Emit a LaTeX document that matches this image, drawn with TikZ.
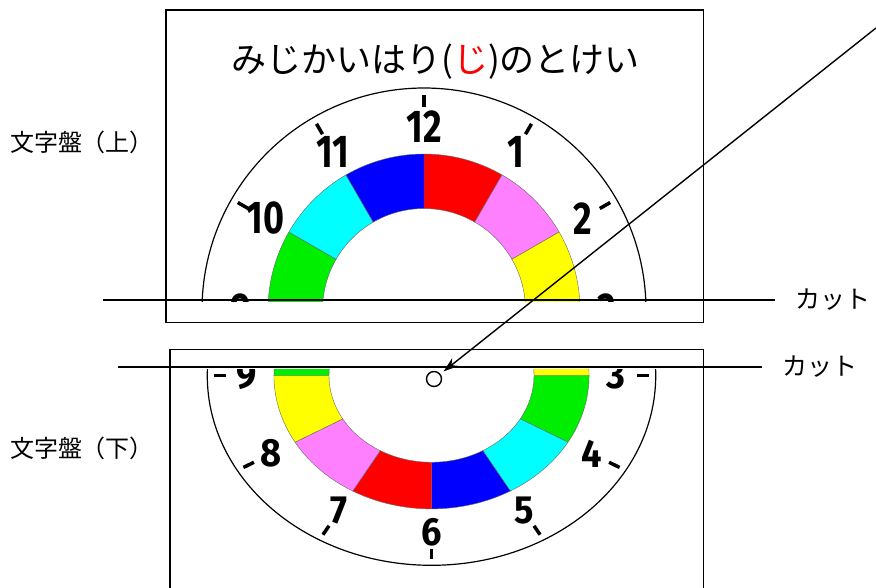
\documentclass[tikz,border=0pt]{standalone}
\usepackage{fontspec}
\usepackage{xcolor}
\usepackage{tikz}
\usetikzlibrary{arrows,arrows.meta,positioning}
\newfontfamily\jpfont{Noto Sans CJK JP}
\newfontfamily\digitfont[Numbers=Proportional]{Fira Sans}
\definecolor{segRed}{HTML}{FF0000}
\definecolor{segPink}{HTML}{FF80FF}
\definecolor{segYellow}{HTML}{FFFF00}
\definecolor{segGreen}{HTML}{00EE00}
\definecolor{segCyan}{HTML}{00FFFF}
\definecolor{segBlue}{HTML}{0000FF}
\tikzset{
  digit/.style={font=\digitfont\bfseries\fontsize{46}{46}\selectfont,xscale=0.78},
  hourtick/.style={line width=3.5pt},
  ringseg/.style={draw=black!60,line width=0.4pt},
}
% one dial: colour ring, rim, ticks and hour digits
\newcommand{\dialface}[1]{%
  \foreach \h/\c in {0/segRed,1/segPink,2/segYellow,3/segGreen,4/segCyan,5/segBlue,
                     6/segRed,7/segPink,8/segYellow,9/segGreen,10/segCyan,11/segBlue}{
    \fill[\c,ringseg] ({30*\h-90}:101.5) arc[start angle={30*\h-90},end angle={30*\h-60},radius=101.5]
      -- ({30*\h-60}:156) arc[start angle={30*\h-60},end angle={30*\h-90},radius=156] -- cycle;
  }
  \draw[line width=1.2pt] (0,0) circle[radius=222];
  \foreach \h in {1,...,12}{
    \draw[hourtick] ({30*\h-90}:203) -- ({30*\h-90}:215);
    \node[digit] (#1\h) at ({30*\h-90}:183) {\h};
  }
}

\begin{document}
\begin{tikzpicture}[x=1pt,y=-1pt,>=stealth',thick,node distance=19pt]
    \tikzstyle{every node}=[inner sep=1pt]
    \tikzstyle{sidelabel}=[font=\jpfont\fontsize{24}{24}\selectfont]
    \tikzstyle{cutlabel}=[font=\jpfont\fontsize{25}{25}\selectfont]
    \tikzstyle{titletext}=[font=\jpfont\fontsize{35}{35}\selectfont]
    \tikzstyle{hole}=[circle,draw,fill=white,line width=1.4pt,minimum size=15pt,inner sep=0pt]
    \useasboundingbox (0,0) rectangle (876,587);

      % sheets
      \draw[line width=1.6pt] (166,10) rectangle (703.5,322.3);
      \draw[line width=1.6pt] (170,600) |- (703.5,349.3) -- (703.5,600);

      \node[titletext] (title) at (435.5,61.5) {みじかいはり(\textcolor{red}{じ})のとけい};

      % upper half of the dial
      \begin{scope}
        \clip (166,10) rectangle (703.5,301);
        \begin{scope}[shift={(424,310)}]
          \dialface{up}
        \end{scope}
      \end{scope}

      % lower half of the dial
      \begin{scope}
        \clip (170,369) rectangle (703.5,600);
        \begin{scope}[shift={(431.5,375.5)},xscale=1.01,yscale=0.855,transform shape]
          \dialface{lo}
        \end{scope}
      \end{scope}

      \node[sidelabel] (dialUp) at (82,142) {文字盤（上）};
      \node[sidelabel] (dialLo) at (82,448) {文字盤（下）};

      % cut lines
      \coordinate (cutUpL) at (103,300);
      \coordinate (cutUpR) at (775,300);
      \node[cutlabel, right = of cutUpR] (cutUp) {カット};
      \draw[line width=1.4pt] (cutUpL) -- (cutUpR);

      \coordinate (cutLoL) at (118,367);
      \coordinate (cutLoR) at (762,367);
      \node[cutlabel, right = of cutLoR] (cutLo) {カット};
      \draw[line width=1.4pt] (cutLoL) -- (cutLoR);

      % pivot hole and pointer
      \node[hole] (hole) at (434,379) {};
      \coordinate (ptrStart) at (876,28);
      \draw[-{Stealth[length=15pt,width=10pt]},line width=1.4pt,shorten >=4pt] (ptrStart) -- (hole);
\end{tikzpicture}
\end{document}
